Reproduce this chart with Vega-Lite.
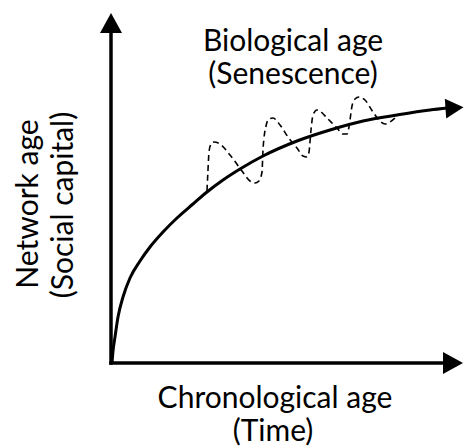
{
  "$schema": "https://vega.github.io/schema/vega-lite/v6.json",
  "autosize": "none",
  "width": 355,
  "height": 363,
  "padding": {"left": 111, "top": 0, "right": 0, "bottom": 83},
  "background": "white",
  "config": {"view": {"stroke": null}},
  "datasets": {
    "axes": [
      {"x": 0, "y": 0, "x2": 0, "y2": 332},
      {"x": 0, "y": 0, "x2": 334, "y2": 0}
    ],
    "arrowsUp": [{"x": 0, "y": 340}],
    "arrowsRight": [{"x": 342, "y": 0}],
    "curveArrow": [{"x": 343.5, "y": 255}],
    "curve": [
      {"x": 1, "y": 0}, {"x": 2, "y": 12}, {"x": 4, "y": 26}, {"x": 7, "y": 46}, {"x": 12, "y": 66},
      {"x": 19, "y": 85}, {"x": 29, "y": 102}, {"x": 39, "y": 116}, {"x": 52, "y": 131},
      {"x": 66, "y": 145}, {"x": 82, "y": 159}, {"x": 96, "y": 171}, {"x": 112, "y": 183},
      {"x": 129, "y": 194}, {"x": 152, "y": 207}, {"x": 186, "y": 222}, {"x": 219, "y": 233},
      {"x": 252, "y": 242}, {"x": 286, "y": 248}, {"x": 319, "y": 253}, {"x": 337, "y": 255}
    ],
    "wave": [
      {"x": 96, "y": 172}, {"x": 97, "y": 193}, {"x": 98, "y": 211}, {"x": 100, "y": 219},
      {"x": 103, "y": 221}, {"x": 109, "y": 219}, {"x": 119, "y": 208}, {"x": 131, "y": 192},
      {"x": 139, "y": 182}, {"x": 144, "y": 180}, {"x": 148, "y": 182}, {"x": 151, "y": 191},
      {"x": 152, "y": 213}, {"x": 155, "y": 237}, {"x": 158, "y": 244}, {"x": 162, "y": 245},
      {"x": 169, "y": 238}, {"x": 177, "y": 226}, {"x": 186, "y": 215}, {"x": 192, "y": 207},
      {"x": 196, "y": 206}, {"x": 198, "y": 211}, {"x": 200, "y": 233}, {"x": 202, "y": 248},
      {"x": 206, "y": 253}, {"x": 210, "y": 251}, {"x": 216, "y": 245}, {"x": 226, "y": 235},
      {"x": 232, "y": 229}, {"x": 236, "y": 229}, {"x": 238, "y": 236}, {"x": 241, "y": 257},
      {"x": 244, "y": 264}, {"x": 248, "y": 266}, {"x": 254, "y": 263}, {"x": 262, "y": 251},
      {"x": 269, "y": 242}, {"x": 274, "y": 239}, {"x": 279, "y": 241}, {"x": 284, "y": 245}
    ],
    "labelsH": [
      {"text": "Chronological age", "x": 164, "y": -45},
      {"text": "(Time)", "x": 162, "y": -78},
      {"text": "Biological age", "x": 182, "y": 312},
      {"text": "(Senescence)", "x": 182, "y": 279}
    ],
    "labelsV": [
      {"text": "Network age", "x": -73, "y": 159},
      {"text": "(Social capital)", "x": -38, "y": 158}
    ]
  },
  "layer": [
    {
      "data": {"name": "axes"},
      "mark": {"type": "rule", "color": "black", "strokeWidth": 3.5, "strokeCap": "square"},
      "encoding": {
        "x": {"field": "x", "type": "quantitative", "scale": {"domain": [0, 355], "nice": false, "zero": false}, "axis": null},
        "y": {"field": "y", "type": "quantitative", "scale": {"domain": [0, 363], "nice": false, "zero": false}, "axis": null},
        "x2": {"field": "x2"},
        "y2": {"field": "y2"}
      }
    },
    {
      "data": {"name": "arrowsUp"},
      "mark": {"type": "point", "shape": "M-1.1,1L0,-1L1.1,1Z", "size": 400, "filled": true, "color": "black", "opacity": 1},
      "encoding": {
        "x": {"field": "x", "type": "quantitative"},
        "y": {"field": "y", "type": "quantitative"}
      }
    },
    {
      "data": {"name": "arrowsRight"},
      "mark": {"type": "point", "shape": "M-1,-1.1L1,0L-1,1.1Z", "size": 400, "filled": true, "color": "black", "opacity": 1},
      "encoding": {
        "x": {"field": "x", "type": "quantitative"},
        "y": {"field": "y", "type": "quantitative"}
      }
    },
    {
      "data": {"name": "curve"},
      "mark": {"type": "line", "color": "black", "strokeWidth": 3, "interpolate": "monotone"},
      "encoding": {
        "x": {"field": "x", "type": "quantitative"},
        "y": {"field": "y", "type": "quantitative"}
      }
    },
    {
      "data": {"name": "curveArrow"},
      "mark": {"type": "point", "shape": "M-1,-1.1L1,0L-1,1.1Z", "size": 324, "filled": true, "color": "black", "opacity": 1, "angle": -4},
      "encoding": {
        "x": {"field": "x", "type": "quantitative"},
        "y": {"field": "y", "type": "quantitative"}
      }
    },
    {
      "data": {"name": "wave"},
      "mark": {"type": "line", "color": "black", "strokeWidth": 1.6, "strokeDash": [6, 4], "interpolate": "monotone"},
      "encoding": {
        "x": {"field": "x", "type": "quantitative"},
        "y": {"field": "y", "type": "quantitative"}
      }
    },
    {
      "data": {"name": "labelsH"},
      "mark": {"type": "text", "font": "Lato", "fontSize": 30, "align": "center", "baseline": "alphabetic", "color": "black"},
      "encoding": {
        "x": {"field": "x", "type": "quantitative"},
        "y": {"field": "y", "type": "quantitative"},
        "text": {"field": "text"}
      }
    },
    {
      "data": {"name": "labelsV"},
      "mark": {"type": "text", "font": "Lato", "fontSize": 30, "align": "center", "baseline": "alphabetic", "angle": 270, "color": "black"},
      "encoding": {
        "x": {"field": "x", "type": "quantitative"},
        "y": {"field": "y", "type": "quantitative"},
        "text": {"field": "text"}
      }
    }
  ]
}
